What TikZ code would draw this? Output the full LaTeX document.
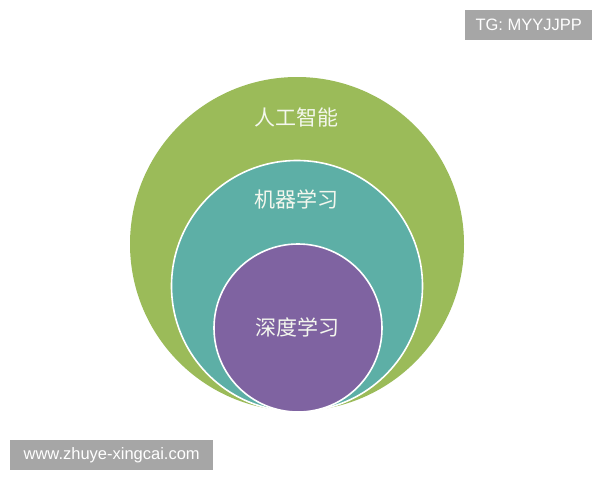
\documentclass[tikz,border=0pt]{standalone}
\usepackage{fontspec}
\setmainfont{Liberation Sans}
\newfontfamily\cjk{Noto Sans CJK SC}
\definecolor{aigreen}{HTML}{9BBB59}
\definecolor{mlteal}{HTML}{5DAFA6}
\definecolor{dlpurple}{HTML}{7F63A1}
\definecolor{wmgray}{HTML}{A6A6A6}
\definecolor{txtwhite}{HTML}{F4F7EE}
\begin{document}
\begin{tikzpicture}[x=1pt,y=-1pt,
  ring/.style={circle, inner sep=0pt, draw=white, line width=1.6pt},
  lab/.style={font=\cjk\fontsize{21}{24}\selectfont, text=txtwhite, inner sep=0pt},
  wm/.style={fill=wmgray, text=white, font=\fontsize{16.5}{18}\selectfont, inner sep=0pt, minimum height=30pt, anchor=north west}]
\useasboundingbox[fill=white] (0,0) rectangle (600,480);
\node[circle, inner sep=0pt, fill=aigreen, minimum size=334pt] (ai) at (297,244) {};
\node[ring, fill=mlteal, minimum size=251pt] (ml) at (297,286) {};
\node[ring, fill=dlpurple, minimum size=168pt] (dl) at (298,328) {};
\node[lab] (tai) at (296,117) {人工智能};
\node[lab] (tml) at (296,199) {机器学习};
\node[lab] (tdl) at (297,327) {深度学习};
\node[wm, minimum width=127pt] (tg) at (465,10) {TG: MYYJJPP};
\node[wm, minimum width=203pt] (url) at (10,440) {www.zhuye-xingcai.com};
\end{tikzpicture}
\end{document}
